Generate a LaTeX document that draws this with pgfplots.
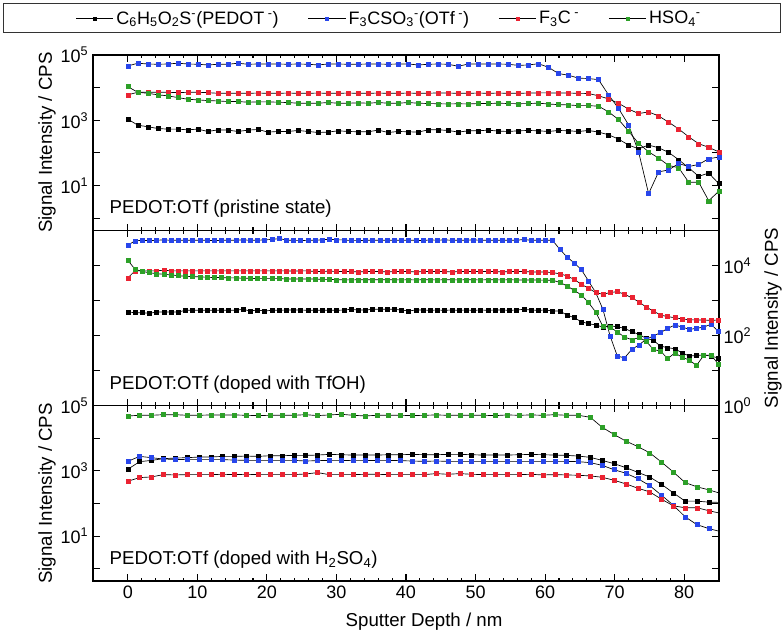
\documentclass[border=0pt]{standalone}
\usepackage{fontspec}
\setmainfont{Liberation Sans}
\usepackage{pgfplots}
\usepackage{pgfplotstable}
\pgfplotsset{compat=1.18}

\definecolor{cblue}{RGB}{40,70,235}
\definecolor{cred}{RGB}{235,35,50}
\definecolor{cgreen}{RGB}{45,160,40}

% pristine state
\pgfplotstableread{
x pe otf cf hs
0.00 1080 4.6e4 6.0e3 1.07e4
1.44 705 5.6e4 7.2e3 7.2e3
2.88 630 5.3e4 7.2e3 6.7e3
4.32 558 5.2e4 7.2e3 6.0e3
5.76 533 5.3e4 7.2e3 5.6e3
7.20 533 5.6e4 7.0e3 4.95e3
8.64 508 5.3e4 7.2e3 4.4e3
10.08 533 5.2e4 7.2e3 4.2e3
11.52 452 4.95e4 7.0e3 4.0e3
12.96 508 5.2e4 6.7e3 3.9e3
14.40 497 5.2e4 6.7e3 3.74e3
15.84 452 5.6e4 6.7e3 3.74e3
17.28 497 5.2e4 6.7e3 3.57e3
18.72 521 5.3e4 6.8e3 3.65e3
20.16 432 5.3e4 6.7e3 3.65e3
21.60 452 5.3e4 6.7e3 3.57e3
23.04 452 5.2e4 6.8e3 3.48e3
24.48 485 5.3e4 6.7e3 3.33e3
25.92 452 5.2e4 6.7e3 3.33e3
27.36 421 4.95e4 6.8e3 3.33e3
28.80 432 5.3e4 6.7e3 3.48e3
30.24 474 5.3e4 6.7e3 3.33e3
31.68 452 5.2e4 6.8e3 3.33e3
33.12 442 5.2e4 6.7e3 3.4e3
34.56 442 5.3e4 6.7e3 3.33e3
36.00 497 5.3e4 6.8e3 3.48e3
37.44 421 5.2e4 6.7e3 3.33e3
38.88 452 5.3e4 6.7e3 3.33e3
40.32 442 5.3e4 6.8e3 3.48e3
41.76 432 4.95e4 6.7e3 3.33e3
43.20 508 5.2e4 6.7e3 3.25e3
44.64 508 5.3e4 6.9e3 3.2e3
46.08 485 5.2e4 6.8e3 3.15e3
47.52 432 4.5e4 6.7e3 3.2e3
48.96 474 5.3e4 6.7e3 3.15e3
50.40 474 5.3e4 6.8e3 3.25e3
51.84 497 5.3e4 6.7e3 3.25e3
53.28 463 5.3e4 6.8e3 3.33e3
54.72 452 5.2e4 6.7e3 3.25e3
56.16 474 4.8e4 6.7e3 3.2e3
57.60 485 4.95e4 6.8e3 3.25e3
59.04 474 5.4e4 6.9e3 3.33e3
60.48 452 4.2e4 6.9e3 3.15e3
61.92 485 2.7e4 6.8e3 3.0e3
63.36 474 2.4e4 6.8e3 2.95e3
64.80 452 1.95e4 6.7e3 2.8e3
66.24 485 1.9e4 6.6e3 2.8e3
67.68 432 1.75e4 5.6e3 2.7e3
69.12 358 6.0e3 4.5e3 1.8e3
70.56 264 2.3e3 3.3e3 1.05e3
72.00 173 720 2.2e3 460
73.44 133 107 1.6e3 195
74.88 173 5.6 1.8e3 107
76.32 143 26 1.35e3 69
77.76 103 30 870 41
79.20 61.5 47 540 35
80.64 35 38 310 12.6
82.08 19 44 190 12.6
83.52 24 66 148 3.4
84.96 11.4 74 107 6.6
}\tabA

% doped with TfOH
\pgfplotstableread{
x pe otf cf hs
0.000 469 3.77e4 4.4e3 1.4e4
1.035 449 5.0e4 7.0e3 7.8e3
2.070 449 5.2e4 7.0e3 6.7e3
3.105 430 5.1e4 7.0e3 6.2e3
4.140 469 5.2e4 7.0e3 5.8e3
5.175 469 5.35e4 7.3e3 5.6e3
6.210 469 5.2e4 7.0e3 5.35e3
7.245 469 5.2e4 7.0e3 5.1e3
8.280 524 5.2e4 7.0e3 4.9e3
9.315 524 5.2e4 7.0e3 4.8e3
10.350 524 5.2e4 7.0e3 4.7e3
11.385 524 5.2e4 7.0e3 4.6e3
12.420 524 5.1e4 7.0e3 4.5e3
13.455 524 5.2e4 7.0e3 4.5e3
14.490 524 5.2e4 7.0e3 4.4e3
15.525 524 5.2e4 7.0e3 4.4e3
16.560 560 5.35e4 7.0e3 4.3e3
17.595 501 5.2e4 7.0e3 4.3e3
18.630 535 5.2e4 7.0e3 4.2e3
19.665 501 5.35e4 7.0e3 4.2e3
20.700 524 5.5e4 7.0e3 4.2e3
21.735 524 5.8e4 7.0e3 4.2e3
22.770 535 5.35e4 7.0e3 4.1e3
23.805 535 5.1e4 6.85e3 4.1e3
24.840 535 5.1e4 7.0e3 4.1e3
25.875 524 5.2e4 7.0e3 4.1e3
26.910 524 5.2e4 6.7e3 4.1e3
27.945 524 5.35e4 6.7e3 4.0e3
28.980 524 5.6e4 6.85e3 4.0e3
30.015 524 5.35e4 6.7e3 3.9e3
31.050 535 5.35e4 6.7e3 3.9e3
32.085 560 5.1e4 6.7e3 3.85e3
33.120 535 5.1e4 6.5e3 3.9e3
34.155 535 5.2e4 6.7e3 3.9e3
35.190 560 5.2e4 6.7e3 3.9e3
36.225 560 5.2e4 6.7e3 3.9e3
37.260 560 5.2e4 6.5e3 3.9e3
38.295 560 5.2e4 6.7e3 3.9e3
39.330 535 5.2e4 6.7e3 3.85e3
40.365 501 5.2e4 6.7e3 3.9e3
41.400 535 5.2e4 6.5e3 3.85e3
42.435 535 5.1e4 6.7e3 3.9e3
43.470 524 5.35e4 6.7e3 3.9e3
44.505 535 5.2e4 6.7e3 3.85e3
45.540 524 5.35e4 6.7e3 3.9e3
46.575 535 5.2e4 6.5e3 3.9e3
47.610 524 5.2e4 6.7e3 3.85e3
48.645 535 5.2e4 6.7e3 3.9e3
49.680 524 5.35e4 6.7e3 3.9e3
50.715 535 5.2e4 6.7e3 3.85e3
51.750 524 5.2e4 6.7e3 3.9e3
52.785 535 5.2e4 6.7e3 3.9e3
53.820 535 5.2e4 6.5e3 3.85e3
54.855 524 5.2e4 6.7e3 3.9e3
55.890 535 5.2e4 6.7e3 3.85e3
56.925 560 5.5e4 6.7e3 3.85e3
57.960 535 5.2e4 6.5e3 3.85e3
58.995 524 5.2e4 6.5e3 3.8e3
60.030 535 5.2e4 6.5e3 3.8e3
61.065 501 5.2e4 6.2e3 3.77e3
62.100 501 2.9e4 5.8e3 3.3e3
63.135 385 1.75e4 5.0e3 2.6e3
64.170 323 1.18e4 4.0e3 1.95e3
65.205 248 7.6e3 2.9e3 1.44e3
66.240 218 3.6e3 2.23e3 867
67.275 200 1.68e3 1.68e3 469
68.310 175 560 1.5e3 183
69.345 187 97 1.68e3 175
70.380 179 26 1.79e3 126
71.415 160 23 1.5e3 91
72.450 129 40 1.2e3 76
73.485 108 54 906 87
74.520 83 78 652 70
75.555 73 97 501 40
76.590 50 121 385 36
77.625 45 160 345 22
78.660 42 200 323 32
79.695 32 175 296 24
80.730 26 150 283 20
81.765 27 160 277 14
82.800 28 175 277 27
83.835 26 208 271 28
84.870 23 135 277 15.7
}\tabB

% doped with H2SO4
\pgfplotstableread{
x pe otf cf hs
0.000 1120 1960 482 4.84e4
1.705 1920 2790 623 5.07e4
3.410 2100 2540 653 5.07e4
5.115 2370 2310 769 5.3e4
6.820 2480 2260 751 5.3e4
8.525 2540 2210 769 5.07e4
10.230 2660 2210 769 5.07e4
11.935 2660 2210 769 5.2e4
13.640 2790 2210 787 5.2e4
15.345 2790 2150 769 5.2e4
17.050 2850 2100 787 5.07e4
18.755 2790 2100 769 4.96e4
20.460 2920 2100 769 5.07e4
22.165 2920 2100 769 5.07e4
23.870 2990 2100 769 5.07e4
25.575 2990 2010 805 5.3e4
27.280 3060 2060 885 4.96e4
28.985 3210 2100 769 5.2e4
30.690 3130 2100 769 5.45e4
32.395 3060 2060 769 5.07e4
34.100 3060 2060 787 4.84e4
35.805 3060 2100 787 5.07e4
37.510 3130 2100 769 5.07e4
39.215 3130 2060 769 5.07e4
40.920 3210 2010 769 4.96e4
42.625 3130 1960 769 5.07e4
44.330 3130 2010 826 5.2e4
46.035 3210 1960 787 5.07e4
47.740 3210 1960 826 5.07e4
49.445 3130 1960 787 5.07e4
51.150 3060 1960 769 5.07e4
52.855 3060 1960 769 4.96e4
54.560 3060 1960 769 5.2e4
56.265 3130 1960 769 5.07e4
57.970 3210 1960 787 5.2e4
59.675 3130 1960 751 5.07e4
61.380 3060 1960 769 5.3e4
63.085 2990 1960 751 5.07e4
64.790 2850 1920 735 5.07e4
66.495 2600 1790 701 4.4e4
68.200 2100 1480 638 2.18e4
69.905 1670 1090 516 1.31e4
71.610 1260 846 400 8.2e3
73.315 906 581 295 5.6e3
75.020 653 356 228 3.6e3
76.725 390 180 136 1.87e3
78.430 212 89 85 927
80.135 118 39 74 438
81.840 118 22.4 74 324
83.545 110 17 60 262
85.250 108 13.7 50 203
}\tabC

\newcommand{\txt}{\fontsize{14}{17}\selectfont}
\newcommand{\tks}{\fontsize{13.5}{16}\selectfont}

\pgfplotsset{
  panel/.style={
    scale only axis, width=469.5pt, height=131.5pt,
    xmin=-5, xmax=85,
    xtick={0,10,...,80}, minor x tick num=4,
    ytick={1,10,100,1000,10000,100000},
    yminorticks=false,
    tick align=inside,
    major tick length=5pt, minor tick length=2.5pt,
    axis line style={line width=0.9pt},
    every tick/.append style={black, line width=0.8pt},
    tick label style={font=\tks},
    label style={font=\txt},
    clip=true,
  },
  legend image code/.code={\draw[mark repeat=2, mark phase=2, mark size=1.1pt, #1]
    plot coordinates {(0pt,0pt) (14pt,0pt) (28pt,0pt)};},
}
\tikzset{ser/.style={black, line width=0.5pt, mark=square*, mark size=1.5pt,
    mark options={draw=#1, fill=#1, line width=0.3pt}}}

\begin{document}
\begin{tikzpicture}
\useasboundingbox (-69.75pt,-435.75pt) rectangle (518.25pt,41.25pt);
\draw[line width=0.7pt, black!80] (-67.5pt,17.25pt) rectangle (515.25pt,39pt);

\begin{axis}[ymode=log, panel, name=p1, at={(0pt,0pt)}, anchor=north west,
  ymin=0.42, ymax=1e5,
  xticklabels={},
  yticklabels={{},{10\textsuperscript{1}},{},{10\textsuperscript{3}},{},{10\textsuperscript{5}}},
  ylabel={Signal Intensity / CPS},
  ylabel style={at={(axis description cs:-0.0655,0.5)}, anchor=base},
  legend columns=4,
  legend style={at={(axis description cs:-0.028,1.208)}, anchor=west,
    draw=none, fill=none, font=\fontsize{13.5}{16}\selectfont, inner sep=0pt,
    /tikz/every even column/.append style={column sep=20pt}},
]
\addplot[ser=black] table[x=x, y=pe] {\tabA};
\addlegendentry{C\textsubscript{6}H\textsubscript{5}O\textsubscript{2}S\textsuperscript{-}(PEDOT\textsuperscript{ -})}
\addplot[ser=cblue] table[x=x, y=otf] {\tabA};
\addlegendentry{F\textsubscript{3}CSO\textsubscript{3}\textsuperscript{-}(OTf\textsuperscript{ -})}
\addplot[ser=cred] table[x=x, y=cf] {\tabA};
\addlegendentry{F\textsubscript{3}C\textsuperscript{ -}}
\addplot[ser=cgreen] table[x=x, y=hs] {\tabA};
\addlegendentry{HSO\textsubscript{4}\textsuperscript{-}}
\node[anchor=base west, font=\txt] at (rel axis cs:0.0192,0.095) {PEDOT:OTf (pristine state)};
\end{axis}

\begin{axis}[ymode=log, panel, name=p2, at={(0pt,-131.5pt)}, anchor=north west,
  ymin=1, ymax=1e5,
  xticklabels={},
  yticklabel pos=right,
  yticklabels={{10\textsuperscript{0}},{},{10\textsuperscript{2}},{},{10\textsuperscript{4}},{}},
  ylabel={Signal Intensity / CPS},
  ylabel style={at={(axis description cs:1.0942,0.5)}, anchor=base, rotate=0},
]
\addplot[ser=black] table[x=x, y=pe] {\tabB};
\addplot[ser=cblue] table[x=x, y=otf] {\tabB};
\addplot[ser=cred] table[x=x, y=cf] {\tabB};
\addplot[ser=cgreen] table[x=x, y=hs] {\tabB};
\node[anchor=base west, font=\txt] at (rel axis cs:0.0192,0.095) {PEDOT:OTf (doped with TfOH)};
\end{axis}

\begin{axis}[ymode=log, panel, name=p3, at={(0pt,-263pt)}, anchor=north west,
  ymin=0.42, ymax=1e5,
  xticklabel={\pgfmathparse{int(round(\tick))}\pgfmathresult},
  yticklabels={{},{10\textsuperscript{1}},{},{10\textsuperscript{3}},{},{10\textsuperscript{5}}},
  ylabel={Signal Intensity / CPS},
  ylabel style={at={(axis description cs:-0.0655,0.5)}, anchor=base},
  xlabel={Sputter Depth / nm},
  xlabel style={at={(axis description cs:0.5288,-0.2608)}, anchor=base},
]
\addplot[ser=black] table[x=x, y=pe] {\tabC};
\addplot[ser=cblue] table[x=x, y=otf] {\tabC};
\addplot[ser=cred] table[x=x, y=cf] {\tabC};
\addplot[ser=cgreen] table[x=x, y=hs] {\tabC};
\node[anchor=base west, font=\txt] at (rel axis cs:0.0192,0.095) {PEDOT:OTf (doped with H\textsubscript{2}SO\textsubscript{4})};
\end{axis}
\end{tikzpicture}
\end{document}
